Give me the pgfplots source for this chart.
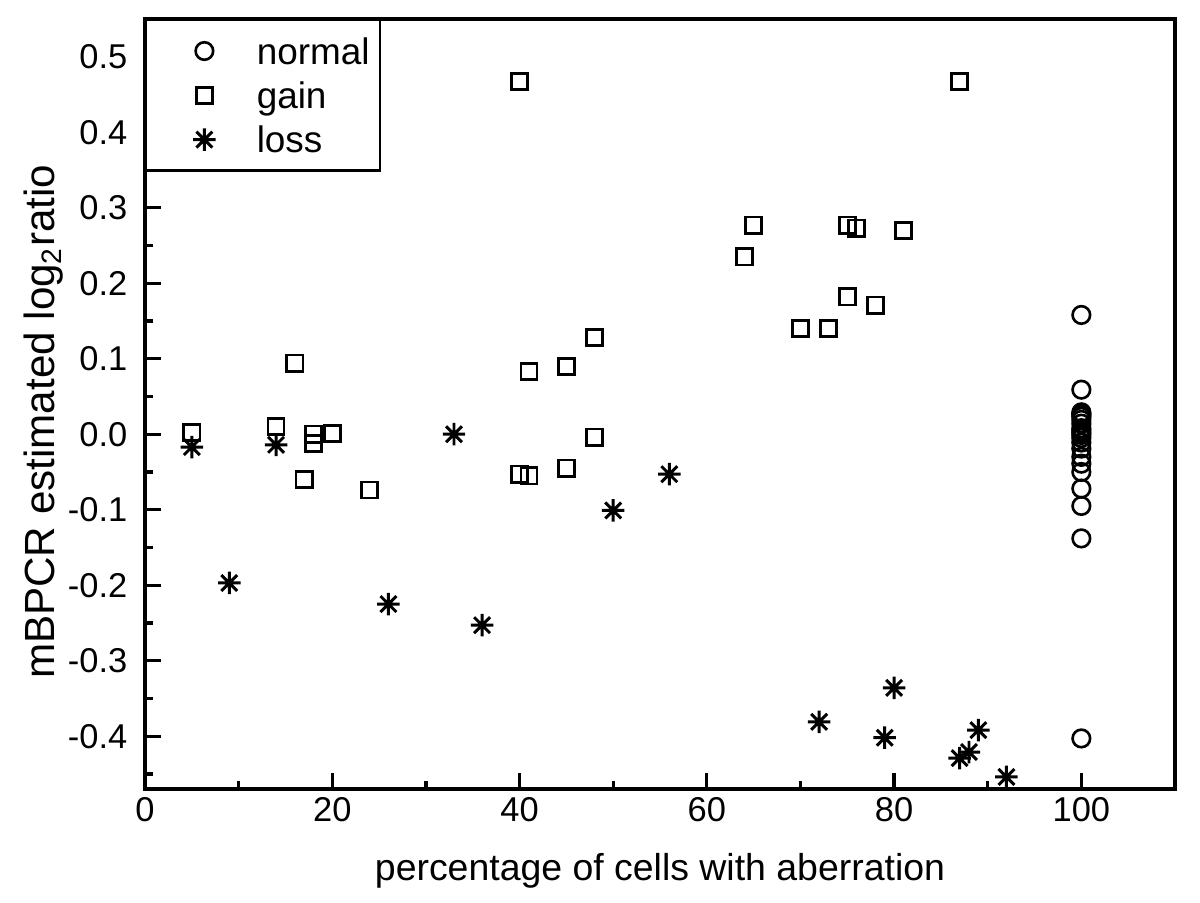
\documentclass[border=0pt]{standalone}
\usepackage{fontspec}
\setmainfont{Liberation Sans}
\usepackage{pgfplots}
\pgfplotsset{compat=1.18}

% eight-armed star, as in the original plot
\pgfdeclareplotmark{star8}{%
  \pgfpathmoveto{\pgfqpoint{0pt}{\pgfplotmarksize}}%
  \pgfpathlineto{\pgfqpoint{0pt}{-\pgfplotmarksize}}%
  \pgfpathmoveto{\pgfqpoint{\pgfplotmarksize}{0pt}}%
  \pgfpathlineto{\pgfqpoint{-\pgfplotmarksize}{0pt}}%
  \pgfpathmoveto{\pgfqpointpolar{45}{\pgfplotmarksize}}%
  \pgfpathlineto{\pgfqpointpolar{225}{\pgfplotmarksize}}%
  \pgfpathmoveto{\pgfqpointpolar{135}{\pgfplotmarksize}}%
  \pgfpathlineto{\pgfqpointpolar{315}{\pgfplotmarksize}}%
  \pgfusepathqstroke}

\begin{document}
\begin{tikzpicture}
\begin{axis}[
  width=10.3cm, height=7.7cm, scale only axis,
  xmin=0, xmax=110, ymin=-0.47, ymax=0.55,
  xtick={0,20,40,60,80,100}, minor xtick={10,30,50,70,90},
  ytick={-0.4,-0.3,-0.2,-0.1,0,0.1,0.2,0.3,0.4,0.5},
  minor ytick={-0.45,-0.35,-0.25,-0.15,-0.05,0.05,0.15,0.25,0.35,0.45},
  tick align=inside, xtick pos=bottom, ytick pos=left,
  major tick length=0.157cm, minor tick length=0.077cm,
  axis line style={line width=0.95pt},
  every tick/.style={line width=0.95pt, black},
  /pgf/number format/assume math mode=true,
  tick label style={font=\fontsize{9.8}{11}\selectfont},
  yticklabel style={/pgf/number format/.cd, fixed, fixed zerofill, precision=1, /tikz/.cd, xshift=-1.5pt},
  xticklabel style={yshift=1.2pt},
  xlabel={percentage of cells with aberration},
  ylabel={mBPCR estimated log\textsubscript{2}ratio},
  xlabel style={font=\fontsize{10.65}{12}\selectfont, at={(axis description cs:0.5,-0.106)}, anchor=center},
  ylabel style={font=\fontsize{12}{14}\selectfont, at={(axis description cs:-0.098,0.477)}, anchor=center},
  legend cell align=left,
  legend image code/.code={\path (0pt,0pt) (28pt,0pt); \draw[#1] plot coordinates {(14pt,0pt)};},
  legend style={at={(rel axis cs:0,1)}, anchor=north west, draw=black, line width=0.6pt,
    fill=white, font=\fontsize{10.5}{12}\selectfont, inner xsep=2.3pt, inner ysep=5.0pt,
    row sep=5.0pt, nodes={text height=7.6pt, text depth=0pt, inner xsep=0.6pt, inner ysep=0pt}},
  mark options={solid, line width=0.75pt, black},
]
\addplot[only marks, mark=o, mark size=2.5pt] coordinates {
 (100,0.158) (100,0.059) (100,0.029) (100,0.027) (100,0.025) (100,0.023) (100,0.019)
 (100,0.014) (100,0.008) (100,0.005) (100,0.002) (100,-0.001) (100,-0.005) (100,-0.011)
 (100,-0.019) (100,-0.030) (100,-0.039) (100,-0.050) (100,-0.072) (100,-0.095)
 (100,-0.138) (100,-0.403)
};
\addlegendentry{normal}
\addplot[only marks, mark=square, mark size=2.3pt] coordinates {
 (5,0.002) (14,0.010) (16,0.094) (17,-0.060) (18,0.000) (18,-0.012) (20,0.001)
 (24,-0.074) (40,0.467) (40,-0.053) (41,-0.055) (41,0.083) (45,0.090) (45,-0.045)
 (48,0.128) (48,-0.004) (64,0.235) (65,0.277) (70,0.140) (73,0.140) (75,0.182)
 (75,0.277) (76,0.273) (78,0.171) (81,0.270) (87,0.467)
};
\addlegendentry{gain}
\addplot[only marks, mark=star8, mark size=3.2pt, mark options={line width=0.85pt}] coordinates {
 (5,-0.017) (9,-0.197) (14,-0.014) (26,-0.225) (33,0.000) (36,-0.253) (50,-0.101)
 (56,-0.053) (72,-0.381) (79,-0.402) (80,-0.336) (87,-0.429) (88,-0.421) (89,-0.392)
 (92,-0.454)
};
\addlegendentry{loss}
\end{axis}
\path (current axis.south west) ++(-1.45cm,-1.13cm) rectangle ++(12cm,9.02cm);
\end{tikzpicture}
\end{document}
